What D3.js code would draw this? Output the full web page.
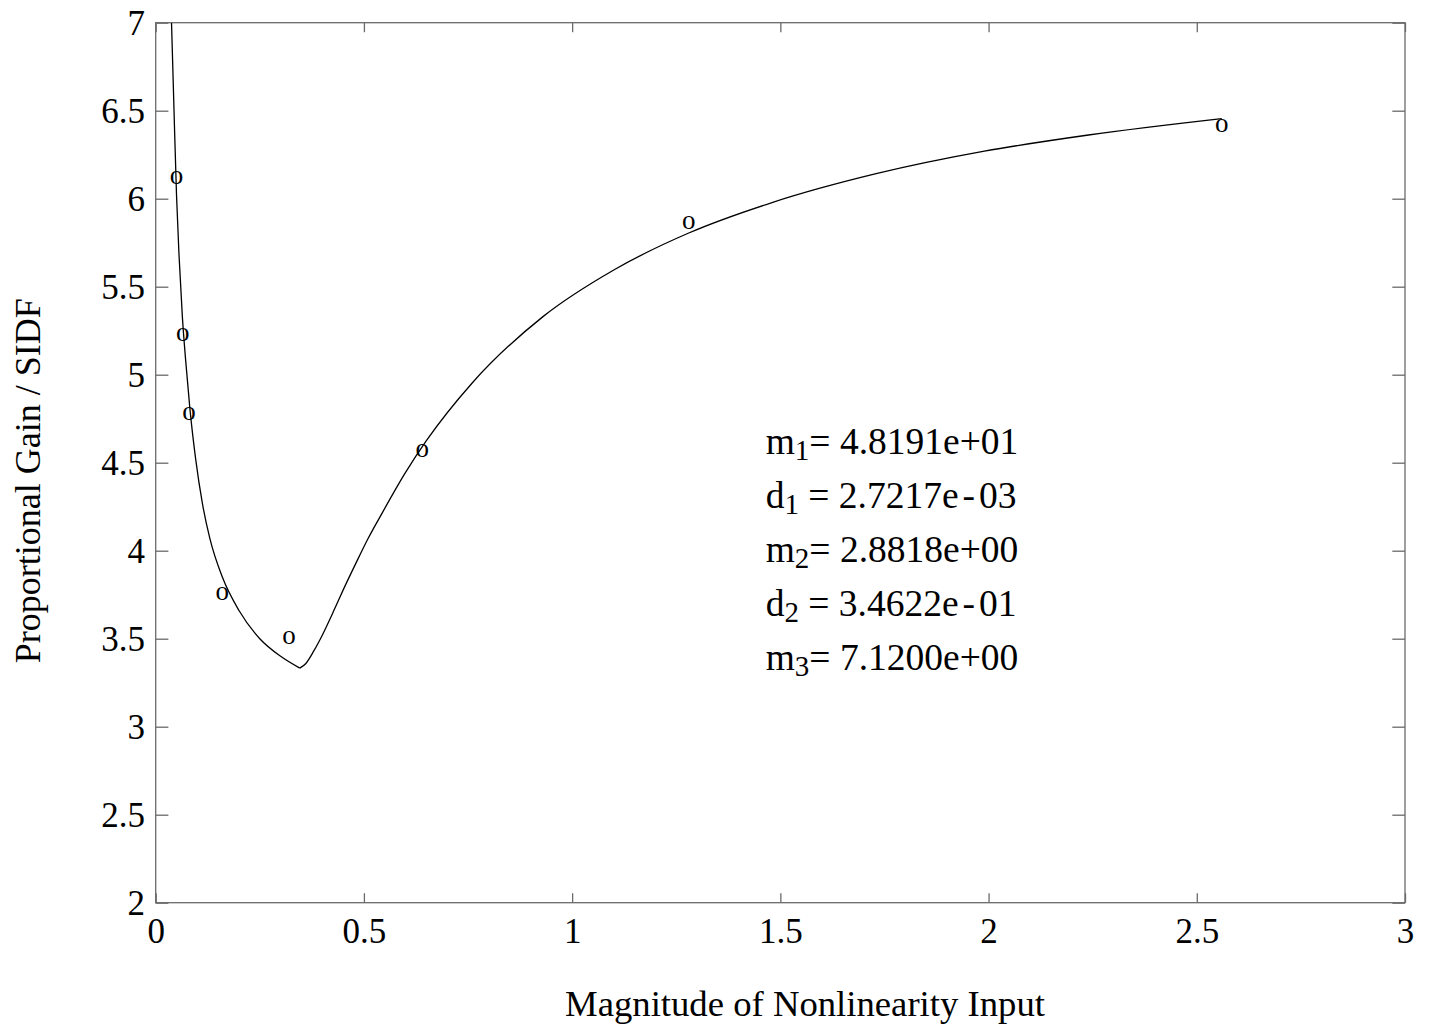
<!DOCTYPE html>
<html>
<head>
<meta charset="utf-8">
<script src="https://cdn.jsdelivr.net/npm/d3@7"></script>
<style>
  html, body { margin: 0; padding: 0; background: #fff; }
  svg { display: block; }
</style>
</head>
<body>
<svg id="chart" width="1429" height="1026"></svg>
<script>
// Measured proportional gain against nonlinearity input magnitude
const amplitudes = [0.05, 0.065, 0.08, 0.16, 0.32, 0.64, 1.28, 2.56];
const gains      = [6.12, 5.225, 4.776, 3.753, 3.503, 4.567, 5.862, 6.413];

// Fitted SIDF curve, falling branch (input below d2)
const fitLowX = [0.038, 0.041, 0.044, 0.050, 0.056, 0.064, 0.072, 0.082, 0.096, 0.112, 0.130, 0.160, 0.200, 0.250, 0.300, 0.346];
const fitLowY = [7.00,  6.75,  6.50,  6.02,  5.68,  5.33,  5.08,  4.81,  4.52,  4.27,  4.07,  3.85,  3.66,  3.50,  3.40,  3.333];

// Fitted SIDF curve, rising branch (input above d2)
const fitHighX = [0.346, 0.360, 0.380, 0.400, 0.430, 0.450, 0.480, 0.510, 0.540, 0.600, 0.650, 0.760, 0.930, 1.100, 1.280, 1.480, 1.730, 1.990, 2.240, 2.560];
const fitHighY = [3.333, 3.358, 3.432, 3.52,  3.671, 3.776, 3.925, 4.069, 4.198, 4.445, 4.625, 4.953, 5.33,  5.595, 5.805, 5.978, 6.142, 6.27,  6.362, 6.455];

// Axis ticks
const xTicks = [0, 0.5, 1, 1.5, 2, 2.5, 3];
const xTickLabels = ["0", "0.5", "1", "1.5", "2", "2.5", "3"];
const yTicks = [2, 2.5, 3, 3.5, 4, 4.5, 5, 5.5, 6, 6.5, 7];
const yTickLabels = ["2", "2.5", "3", "3.5", "4", "4.5", "5", "5.5", "6", "6.5", "7"];

// Fitted parameters
const paramNames  = ["m", "d", "m", "d", "m"];
const paramSubs   = ["1", "1", "2", "2", "3"];
const paramEquals = ["= ", " = ", "= ", " = ", "= "];
const paramMant   = ["4.8191e", "2.7217e", "2.8818e", "3.4622e", "7.1200e"];
const paramSign   = ["+", "-", "+", "-", "+"];
const paramExp    = ["01", "03", "00", "01", "00"];

const W = 1429, H = 1026;
const margin = { top: 22.7, right: 24, bottom: 123.3, left: 155.7 };
const iw = W - margin.left - margin.right;
const ih = H - margin.top - margin.bottom;
const FONT = "'Liberation Serif', 'Times New Roman', Times, serif";
const FRAME = "#6a6a6a";

const svg = d3.select("#chart");
const g = svg.append("g").attr("transform", `translate(${margin.left},${margin.top})`);

const x = d3.scaleLinear().domain([0, 3]).range([0, iw]);
const y = d3.scaleLinear().domain([2, 7]).range([ih, 0]);

function styleAxis(sel, showText) {
  sel.select(".domain").remove();
  sel.selectAll(".tick line").attr("stroke", FRAME).attr("stroke-width", 1.3);
  sel.selectAll(".tick text")
    .attr("font-family", FONT)
    .attr("font-size", 35)
    .attr("fill", "#000");
  if (!showText) sel.selectAll(".tick text").remove();
}

// Left axis with labels, ticks pointing inward
g.append("g")
  .call(d3.axisLeft(y).tickValues(yTicks)
    .tickFormat((d, i) => yTickLabels[i])
    .tickSizeInner(-12.7).tickSizeOuter(0).tickPadding(10.7))
  .call(s => styleAxis(s, true))
  .selectAll(".tick text").attr("dy", "0.33em");

// Right mirror ticks
g.append("g").attr("transform", `translate(${iw},0)`)
  .call(d3.axisRight(y).tickValues(yTicks).tickSizeInner(-12.7).tickSizeOuter(0))
  .call(s => styleAxis(s, false));

// Bottom axis with labels
g.append("g").attr("transform", `translate(0,${ih})`)
  .call(d3.axisBottom(x).tickValues(xTicks)
    .tickFormat((d, i) => xTickLabels[i])
    .tickSizeInner(-9.5).tickSizeOuter(0).tickPadding(15))
  .call(s => styleAxis(s, true));

// Top mirror ticks
g.append("g")
  .call(d3.axisTop(x).tickValues(xTicks).tickSizeInner(-9.5).tickSizeOuter(0))
  .call(s => styleAxis(s, false));

// Plot frame
g.append("rect")
  .attr("x", 0).attr("y", 0).attr("width", iw).attr("height", ih)
  .attr("fill", "none").attr("stroke", FRAME).attr("stroke-width", 1.3);

// Fitted curve
const line = d3.line()
  .x(d => x(d[0]))
  .y(d => y(d[1]))
  .curve(d3.curveMonotoneX);

const lowBranch = fitLowX.map((v, i) => [v, fitLowY[i]]);
const highBranch = fitHighX.map((v, i) => [v, fitHighY[i]]);

g.append("clipPath").attr("id", "plot-clip")
  .append("rect").attr("width", iw).attr("height", ih);

[lowBranch, highBranch].forEach(branch => {
  g.append("path")
    .datum(branch)
    .attr("clip-path", "url(#plot-clip)")
    .attr("fill", "none")
    .attr("stroke", "#000")
    .attr("stroke-width", 1.3)
    .attr("stroke-linejoin", "round")
    .attr("d", line);
});

// Measured points drawn as "o" markers
g.selectAll("text.marker")
  .data(amplitudes.map((a, i) => [a, gains[i]]))
  .join("text")
  .attr("class", "marker")
  .attr("x", d => x(d[0]))
  .attr("y", d => y(d[1]))
  .attr("dy", "0.22em")
  .attr("text-anchor", "middle")
  .attr("font-family", FONT)
  .attr("font-size", 27)
  .attr("fill", "#000")
  .text("o");

// Parameter annotation block
const ann = g.append("g").attr("transform", "translate(610,431)");
paramNames.forEach((name, i) => {
  const t = ann.append("text")
    .attr("x", 0)
    .attr("y", i * 54)
    .attr("font-family", FONT)
    .attr("font-size", 37.5)
    .attr("fill", "#000");
  t.append("tspan").text(name);
  t.append("tspan").attr("font-size", 29).attr("dy", 6).text(paramSubs[i]);
  t.append("tspan").attr("dy", -6).text(paramEquals[i] + paramMant[i]);
  const minus = paramSign[i] === "-";
  t.append("tspan").attr("dx", minus ? 4 : 0).text(paramSign[i]);
  t.append("tspan").attr("dx", minus ? 4 : 0).text(paramExp[i]);
});

// Axis titles
svg.append("text")
  .attr("x", 805)
  .attr("y", 1016)
  .attr("text-anchor", "middle")
  .attr("font-family", FONT)
  .attr("font-size", 36.7)
  .attr("fill", "#000")
  .text("Magnitude of Nonlinearity Input");

svg.append("text")
  .attr("transform", `translate(40,${margin.top + ih / 2 + 18}) rotate(-90)`)
  .attr("text-anchor", "middle")
  .attr("font-family", FONT)
  .attr("font-size", 36)
  .attr("fill", "#000")
  .text("Proportional Gain / SIDF");
</script>
</body>
</html>
